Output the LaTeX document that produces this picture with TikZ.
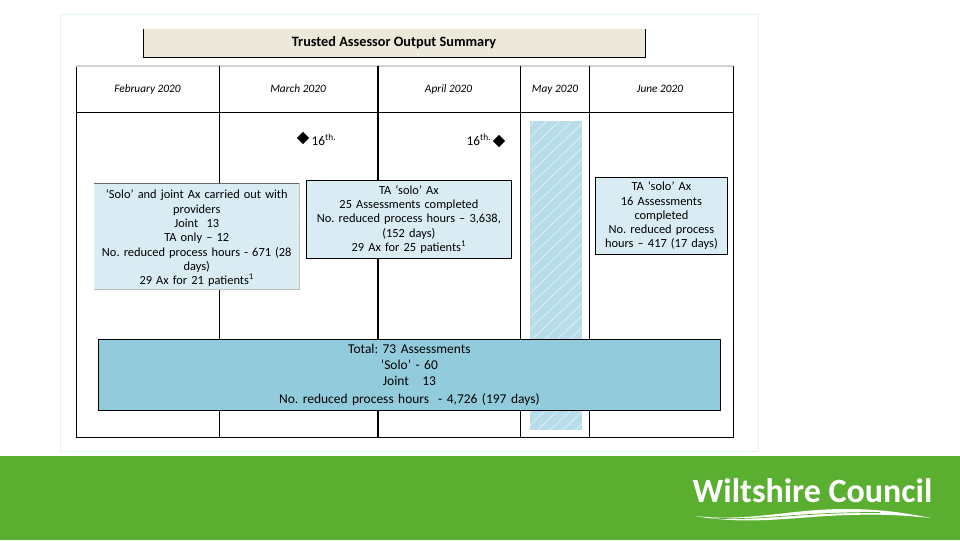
\documentclass[tikz,border=0pt]{standalone}
\usepackage{fontspec}
\setmainfont{Carlito}
\usetikzlibrary{shapes.geometric}
\definecolor{bandgreen}{RGB}{91,175,48}
\definecolor{panelblue}{RGB}{218,236,243}
\definecolor{totalblue}{RGB}{146,204,220}
\definecolor{hatchblue}{RGB}{183,221,234}
\definecolor{titlebeige}{RGB}{236,233,219}
\definecolor{frameblue}{RGB}{225,242,248}
\frenchspacing
\tikzset{
  monthlabel/.style={anchor=base,inner sep=0.75pt,font=\fontsize{8.5}{10}\selectfont\itshape},
  infobox/.style={anchor=north west,inner sep=0pt,align=center,fill=panelblue,font=\fontsize{9.3}{10.7}\selectfont},
  marker/.style={diamond,fill=black,inner sep=0pt,minimum size=9.5pt},
  datelabel/.style={inner sep=0.75pt,font=\fontsize{10}{11}\selectfont},
  tableline/.style={line width=0.6pt}
}
\begin{document}
\begin{tikzpicture}[x=0.75pt,y=0.75pt,yscale=-1,xscale=1]
        \useasboundingbox (0,0) rectangle (960,540);
        \fill [white] (0,0) rectangle (960,540);
        \draw [frameblue] (60,14) rectangle (758,451);
        % title
        \fill [titlebeige] (143,29) rectangle (645,57);
        \draw [tableline] (143,29) -- (143,57) -- (645,57) -- (645,29);
        \node [inner sep=0.75pt,font=\fontsize{10.7}{12}\selectfont\bfseries] (title) at (394,42.5) {Trusted Assessor Output Summary};
        % hatched column
        \fill [hatchblue] (530,121) rectangle (582,430);
        \begin{scope}
            \clip (530,121) rectangle (582,430);
            \foreach \y in {130,142,...,490} {
                \draw [white,opacity=0.45,line width=0.8pt] (525,\y) -- (590,\y-62);
            }
        \end{scope}
        % table
        \draw [tableline] (76,66) -- (76,437) -- (733,437) -- (733,66);
        \draw [black!18,line width=0.8pt] (76,66) -- (733,66);
        \draw [tableline] (76,112) -- (733,112);
        \foreach \x in {219,520,589} {
            \draw [tableline] (\x,66) -- (\x,437);
        }
        \draw [line width=0.95pt] (378,66) -- (378,437);
        \node [monthlabel] (feb) at (147.5,92) {February 2020};
        \node [monthlabel] (mar) at (298,92) {March 2020};
        \node [monthlabel] (apr) at (448.5,92) {April 2020};
        \node [monthlabel] (may) at (555,92) {May 2020};
        \node [monthlabel] (jun) at (660,92) {June 2020};
        % dates
        \node [marker] (startmark) at (303,138) {};
        \node [marker] (endmark) at (499,141) {};
        \node [datelabel] (startdate) at (324,139.5) {16\textsuperscript{th.}};
        \node [datelabel] (enddate) at (479,139.5) {16\textsuperscript{th.}};
        % boxes
        \fill [panelblue] (94,183) rectangle (299,289);
        \draw [black!60,line width=0.5pt] (94,183) -- (299,183);
        \draw [black!25,line width=0.5pt] (94,289) -- (299,289) -- (299,183);
        \node [infobox,text width=153.75pt,minimum height=79.5pt,fill=none] (firstbox) at (94,185) {‘Solo’ and joint Ax carried out with\\providers\\Joint\ \ 13\\TA only -- 12\\No. reduced process hours - 671 (28\\days)\\29 Ax for 21 patients\textsuperscript{1}};
        \node [infobox,text width=153.75pt,draw,line width=0.6pt,minimum height=58.5pt] (secondbox) at (306,180) {TA ‘solo’ Ax\\25 Assessments completed\\No. reduced process hours -- 3,638,\\(152 days)\\29 Ax for 25 patients\textsuperscript{1}};
        \node [infobox,text width=99pt,draw,line width=0.6pt,minimum height=57.75pt] (thirdbox) at (595,177) {TA ‘solo’ Ax\\16 Assessments\\completed\\No. reduced process\\hours -- 417 (17 days)};
        \node [infobox,text width=466.5pt,draw,line width=0.6pt,minimum height=53.25pt,fill=totalblue,font=\fontsize{10.1}{12}\selectfont] (totalbox) at (98,339) {Total: 73 Assessments\\‘Solo’ - 60\\Joint\ \ \ 13\\[1pt]No. reduced process hours\ \ - 4,726 (197 days)};
        % footer band
        \fill [bandgreen] (0,456) rectangle (960,540);
        \node [inner sep=0pt,text=white,font=\fontsize{25.5}{28}\selectfont\bfseries] (logotext) at (812.5,491) {Wiltshire Council};
        \fill [white] (695,516) .. controls (750,522) and (790,509) .. (845,509) .. controls (885,509) and (910,514) .. (931,518) .. controls (900,515) and (880,514) .. (850,515) .. controls (800,516) and (750,526) .. (695,516) -- cycle;
        \draw [bandgreen,line width=0.5pt] (712,518) .. controls (760,521) and (800,512) .. (880,512.5);
\end{tikzpicture}
\end{document}
